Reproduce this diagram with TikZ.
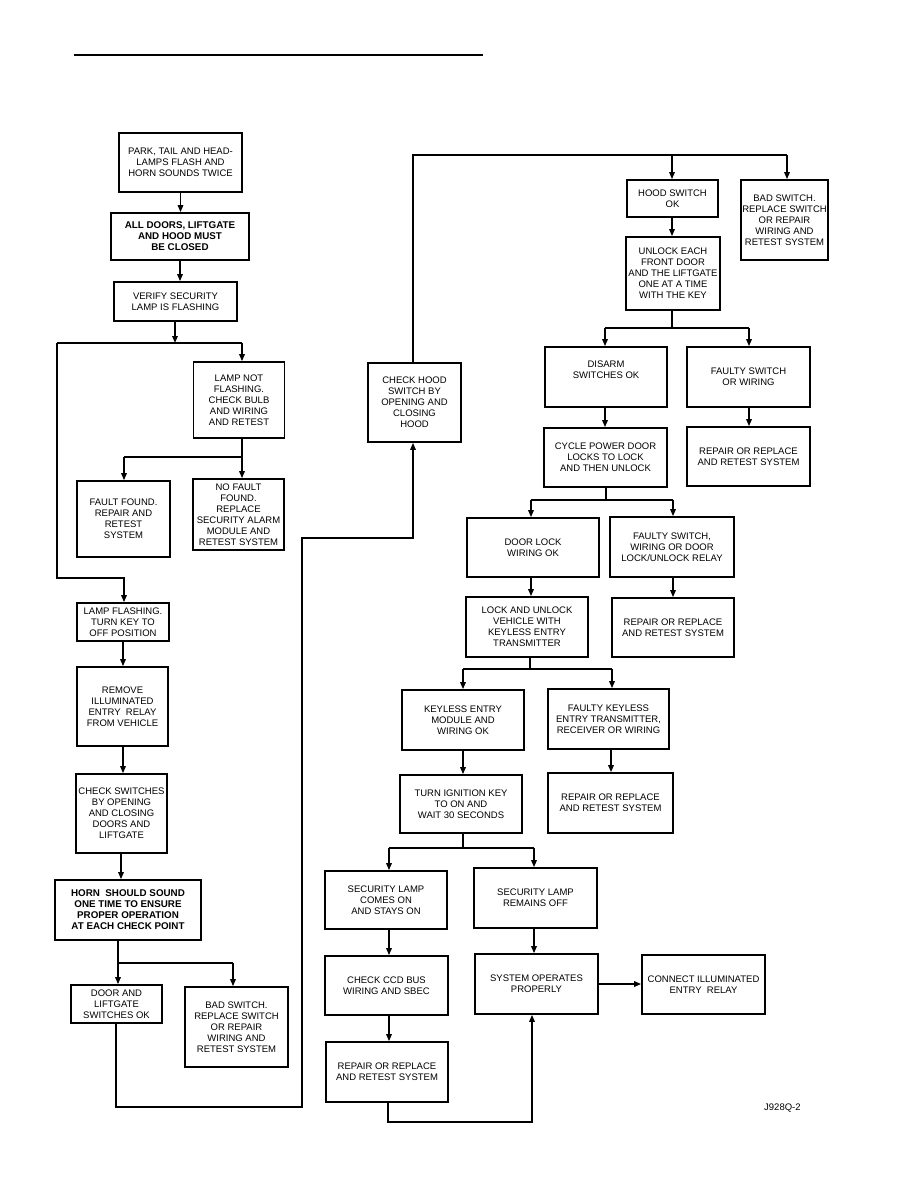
\documentclass[tikz,border=0pt]{standalone}
\usepackage{fontspec}
\setmainfont{Liberation Sans}
\usetikzlibrary{arrows.meta}
\tikzset{
  box/.style={draw, line width=1.7pt, inner sep=0pt, align=center, font=\fontsize{9.5}{11}\selectfont},
  bbox/.style={box, font=\fontsize{9.8}{11}\selectfont\bfseries},
  ln/.style={line width=1.5pt},
  arr/.style={line width=1.5pt, -{Triangle[length=7pt,width=5.5pt]}},
}
\begin{document}
\begin{tikzpicture}[x=1pt,y=-1pt]
\useasboundingbox (0,0) rectangle (918,1188);
% top rule
\coordinate (r1) at (74,55); \coordinate (r2) at (483,55);
\draw[line width=2pt] (r1) -- (r2);

% left column
\node[box, minimum width=123pt, minimum height=59pt] (b1) at (180.5,162.5) {PARK, TAIL AND HEAD-\\LAMPS FLASH AND\\HORN SOUNDS TWICE};
\node[bbox, minimum width=138pt, minimum height=47pt] (b2) at (180,236.5) {ALL DOORS, LIFTGATE\\AND HOOD MUST\\BE CLOSED};
\node[box, minimum width=123pt, minimum height=39pt] (b3) at (175.5,301.5) {VERIFY SECURITY\\LAMP IS FLASHING};
\node[box, minimum width=91pt, minimum height=76pt] (b4) at (239,400) {LAMP NOT\\FLASHING.\\CHECK BULB\\AND WIRING\\AND RETEST};
\node[box, minimum width=93pt, minimum height=76pt] (b5) at (123.5,519) {FAULT FOUND.\\REPAIR AND\\RETEST\\SYSTEM};
\node[box, minimum width=91pt, minimum height=71pt] (b6) at (238.5,514.5) {NO FAULT\\FOUND.\\REPLACE\\SECURITY ALARM\\MODULE AND\\RETEST SYSTEM};
\node[box, minimum width=92pt, minimum height=38pt] (b7) at (123,622) {LAMP FLASHING.\\TURN KEY TO\\OFF POSITION};
\node[box, minimum width=91pt, minimum height=79pt] (b8) at (122.5,706.5) {REMOVE\\ILLUMINATED\\ENTRY\ \ RELAY\\FROM VEHICLE};
\node[box, minimum width=91pt, minimum height=79pt] (b9) at (121.5,813.5) {CHECK SWITCHES\\BY OPENING\\AND CLOSING\\DOORS AND\\LIFTGATE};
\node[bbox, minimum width=146pt, minimum height=60pt] (b10) at (128,910) {HORN\ \ SHOULD SOUND\\ONE TIME TO ENSURE\\PROPER OPERATION\\AT EACH CHECK POINT};
\node[box, minimum width=91pt, minimum height=38pt] (b11) at (116.5,1004) {DOOR AND\\LIFTGATE\\SWITCHES OK};
\node[box, minimum width=103pt, minimum height=80pt] (b12) at (236.5,1027) {BAD SWITCH.\\REPLACE SWITCH\\OR REPAIR\\WIRING AND\\RETEST SYSTEM};

% middle
\node[box, minimum width=93pt, minimum height=79pt] (b13) at (414.5,402.5) {CHECK HOOD\\SWITCH BY\\OPENING AND\\CLOSING\\HOOD};

% right column
\node[box, minimum width=91pt, minimum height=37pt] (b14) at (672.5,198.5) {HOOD SWITCH\\OK};
\node[box, minimum width=87pt, minimum height=80pt] (b15) at (784.5,220) {BAD SWITCH.\\REPLACE SWITCH\\OR REPAIR\\WIRING AND\\RETEST SYSTEM};
\node[box, minimum width=94pt, minimum height=73pt] (b16) at (673,273.5) {UNLOCK EACH\\FRONT DOOR\\AND THE LIFTGATE\\ONE AT A TIME\\WITH THE KEY};
\node[box, minimum width=122pt, minimum height=60pt] (b17) at (606,377) {DISARM\\SWITCHES OK\\[4pt]};
\node[box, minimum width=123pt, minimum height=60pt] (b18) at (748.5,377) {FAULTY SWITCH\\OR WIRING};
\node[box, minimum width=123pt, minimum height=59pt] (b19) at (605.5,457.5) {CYCLE POWER DOOR\\LOCKS TO LOCK\\AND THEN UNLOCK};
\node[box, minimum width=123pt, minimum height=59pt] (b20) at (748.5,456.5) {REPAIR OR REPLACE\\AND RETEST SYSTEM};
\node[box, minimum width=132pt, minimum height=59pt] (b21) at (533,547.5) {DOOR LOCK\\WIRING OK};
\node[box, minimum width=124pt, minimum height=60pt] (b22) at (672,547) {FAULTY SWITCH,\\WIRING OR DOOR\\LOCK/UNLOCK RELAY};
\node[box, minimum width=122pt, minimum height=60pt] (b23) at (527,627) {LOCK AND UNLOCK\\VEHICLE WITH\\KEYLESS ENTRY\\TRANSMITTER};
\node[box, minimum width=122pt, minimum height=59pt] (b24) at (673,627.5) {REPAIR OR REPLACE\\AND RETEST SYSTEM};
\node[box, minimum width=122pt, minimum height=60pt] (b25) at (463,720) {KEYLESS ENTRY\\MODULE AND\\WIRING OK};
\node[box, minimum width=121pt, minimum height=60pt] (b26) at (608.5,719) {FAULTY KEYLESS\\ENTRY TRANSMITTER,\\RECEIVER OR WIRING};
\node[box, minimum width=122pt, minimum height=58pt] (b27) at (461,804) {TURN IGNITION KEY\\TO ON AND\\WAIT 30 SECONDS};
\node[box, minimum width=125pt, minimum height=60pt] (b28) at (610.5,803) {REPAIR OR REPLACE\\AND RETEST SYSTEM};
\node[box, minimum width=122pt, minimum height=58pt] (b29) at (386,900) {SECURITY LAMP\\COMES ON\\AND STAYS ON};
\node[box, minimum width=123pt, minimum height=60pt] (b30) at (535.5,898) {SECURITY LAMP\\REMAINS OFF};
\node[box, minimum width=123pt, minimum height=59pt] (b31) at (386.5,985.5) {CHECK CCD BUS\\WIRING AND SBEC};
\node[box, minimum width=123pt, minimum height=60pt] (b32) at (536.5,984) {SYSTEM OPERATES\\PROPERLY};
\node[box, minimum width=123pt, minimum height=59pt] (b33) at (703.5,984.5) {CONNECT ILLUMINATED\\ENTRY\ \ RELAY};
\node[box, minimum width=122pt, minimum height=60pt] (b34) at (387,1072) {REPAIR OR REPLACE\\AND RETEST SYSTEM};

\node[anchor=west, inner sep=0pt, font=\fontsize{9.5}{11}\selectfont] (lbl) at (764,1108) {J928Q-2};

% ---- connectors, left column
\draw[arr] (b1.south) -- (b1.south |- b2.north);
\draw[arr] (b2.south) -- (b2.south |- b3.north);
\coordinate (jA) at (175,343); \coordinate (jAl) at (57,343); \coordinate (jAr) at (242,343);
\draw[arr] (b3.south -| jA) -- (jA);
\draw[ln] (jAl) -- (jAr);
\draw[arr] (jAr) -- (jAr |- b4.north);
\coordinate (jB) at (57,578); \coordinate (jBr) at (124,578);
\draw[arr] (jAl) -- (jB) -- (jBr) -- (jBr |- b7.north);
\coordinate (jC) at (242,457); \coordinate (jCl) at (124,457);
\draw[ln] (jC |- b4.south) -- (jC) -- (jCl);
\draw[arr] (jCl) -- (jCl |- b5.north);
\draw[arr] (jC) -- (jC |- b6.north);
\coordinate (jM) at (123,0);
\draw[arr] (jM |- b7.south) -- (jM |- b8.north);
\draw[arr] (jM |- b8.south) -- (jM |- b9.north);
\coordinate (jN) at (121,0);
\draw[arr] (jN |- b9.south) -- (jN |- b10.north);
\coordinate (jD) at (118,963); \coordinate (jDr) at (233,963);
\draw[ln] (jD |- b10.south) -- (jD) -- (jDr);
\draw[arr] (jD) -- (jD |- b11.north);
\draw[arr] (jDr) -- (jDr |- b12.north);
\coordinate (jE) at (116,1107); \coordinate (jEr) at (302,1107);
\coordinate (jF) at (302,538); \coordinate (jFr) at (413,538);
\draw[arr] (jE |- b11.south) -- (jE) -- (jEr) -- (jF) -- (jFr) -- (jFr |- b13.south);

% ---- right part
\coordinate (jG) at (413,155); \coordinate (jGm) at (672,155); \coordinate (jGr) at (787,155);
\draw[ln] (jG |- b13.north) -- (jG) -- (jGr);
\draw[arr] (jGm) -- (jGm |- b14.north);
\draw[arr] (jGr) -- (jGr |- b15.north);
\draw[arr] (jGm |- b14.south) -- (jGm |- b16.north);
\coordinate (jH) at (672,328); \coordinate (jHl) at (605,328); \coordinate (jHr) at (749,328);
\draw[ln] (jH |- b16.south) -- (jH);
\draw[ln] (jHl) -- (jHr);
\draw[arr] (jHl) -- (jHl |- b17.north);
\draw[arr] (jHr) -- (jHr |- b18.north);
\draw[arr] (jHl |- b17.south) -- (jHl |- b19.north);
\draw[arr] (jHr |- b18.south) -- (jHr |- b20.north);
\coordinate (jI) at (606,500); \coordinate (jIl) at (531,500); \coordinate (jIr) at (673,500);
\draw[ln] (jI |- b19.south) -- (jI);
\draw[ln] (jIl) -- (jIr);
\draw[arr] (jIl) -- (jIl |- b21.north);
\draw[arr] (jIr) -- (jIr |- b22.north);
\draw[arr] (jIl |- b21.south) -- (jIl |- b23.north);
\draw[arr] (jIr |- b22.south) -- (jIr |- b24.north);
\coordinate (jJ) at (530,669); \coordinate (jJl) at (463,669); \coordinate (jJr) at (612,669);
\draw[ln] (jJ |- b23.south) -- (jJ);
\draw[ln] (jJl) -- (jJr);
\draw[arr] (jJl) -- (jJl |- b25.north);
\draw[arr] (jJr) -- (jJr |- b26.north);
\draw[arr] (jJl |- b25.south) -- (jJl |- b27.north);
\coordinate (jO) at (611,0);
\draw[arr] (jO |- b26.south) -- (jO |- b28.north);
\coordinate (jK) at (463,848); \coordinate (jKl) at (389,848); \coordinate (jKr) at (534,848);
\draw[ln] (jK |- b27.south) -- (jK);
\draw[ln] (jKl) -- (jKr);
\draw[arr] (jKl) -- (jKl |- b29.north);
\draw[arr] (jKr) -- (jKr |- b30.north);
\draw[arr] (jKl |- b29.south) -- (jKl |- b31.north);
\draw[arr] (jKl |- b31.south) -- (jKl |- b34.north);
\draw[arr] (jKr |- b30.south) -- (jKr |- b32.north);
\draw[arr] (b32.east) -- (b32.east -| b33.west);
\coordinate (jL) at (388,1122); \coordinate (jLr) at (532,1122);
\draw[arr] (jL |- b34.south) -- (jL) -- (jLr) -- (jLr |- b32.south);
\end{tikzpicture}
\end{document}
